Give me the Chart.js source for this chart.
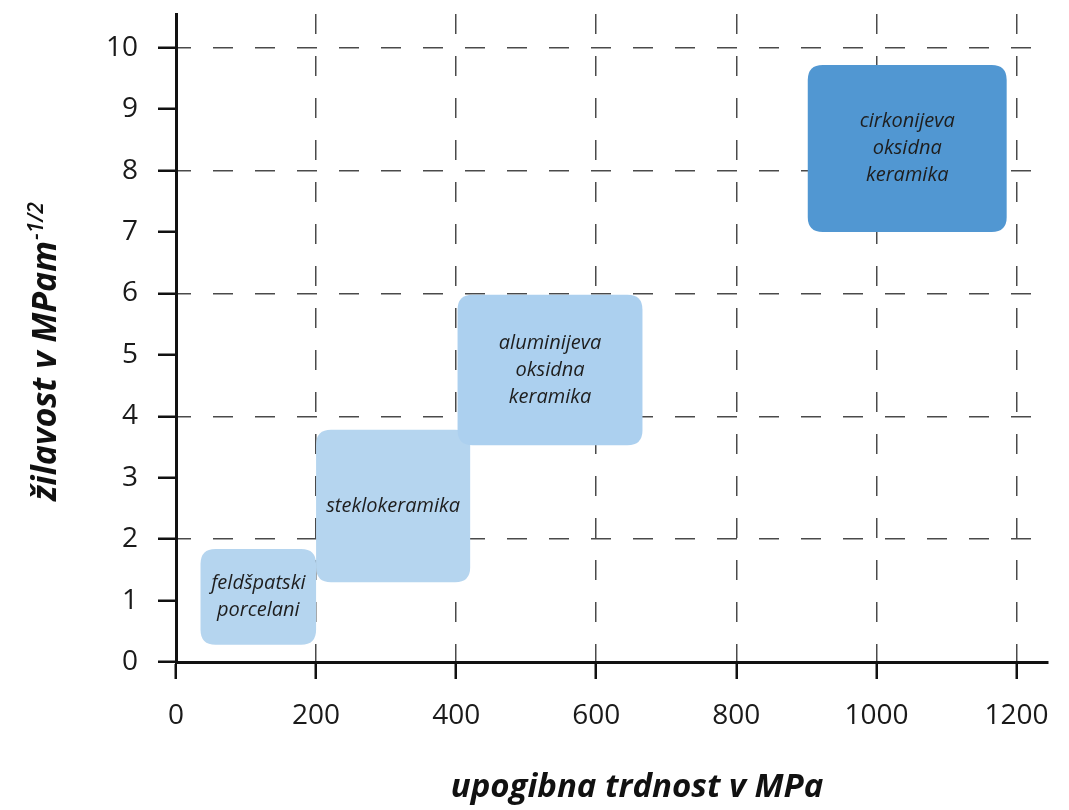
<!DOCTYPE html>
<html>
<head>
<meta charset="utf-8">
<script src="https://cdn.jsdelivr.net/npm/chart.js@4"></script>
<style>body{margin:0;background:#fff}</style>
</head>
<body>
<canvas id="chart" width="1069" height="810"></canvas>
<script>
// material groups, label lines inside each box
const materials = [['feldšpatski', 'porcelani'], ['steklokeramika'], ['aluminijeva', 'oksidna', 'keramika'], ['cirkonijeva', 'oksidna', 'keramika']];
// flexural strength range (MPa)
const strengthFrom = [35, 200, 402, 902];
const strengthTo = [200, 420, 666, 1186];
// fracture toughness range (MPa m^-1/2)
const toughnessFrom = [0.28, 1.30, 3.53, 7.0];
const toughnessTo = [1.84, 3.78, 5.98, 9.72];
const boxColors = ['#b5d5ef', '#b5d5ef', '#acd0ef', '#5197d2'];

const xTicks = [0, 200, 400, 600, 800, 1000, 1200];
const yTicks = [0, 1, 2, 3, 4, 5, 6, 7, 8, 9, 10];
const yGridTicks = [2, 4, 6, 8, 10];

const FONT = '"Open Sans", "DejaVu Sans", sans-serif';

function roundBox(ctx, x, y, w, h, r) {
    ctx.beginPath();
    ctx.moveTo(x + r, y);
    ctx.lineTo(x + w - r, y);
    ctx.quadraticCurveTo(x + w, y, x + w, y + r);
    ctx.lineTo(x + w, y + h - r);
    ctx.quadraticCurveTo(x + w, y + h, x + w - r, y + h);
    ctx.lineTo(x + r, y + h);
    ctx.quadraticCurveTo(x, y + h, x, y + h - r);
    ctx.lineTo(x, y + r);
    ctx.quadraticCurveTo(x, y, x + r, y);
    ctx.closePath();
}

// draws each dataset as a rounded box spanning its two points
const boxPlugin = {
    id: 'boxes',
    beforeDatasetsDraw(chart) {
        const ctx = chart.ctx;
        chart.data.datasets.forEach((ds, i) => {
            const pts = chart.getDatasetMeta(i).data;
            const x0 = Math.min(pts[0].x, pts[1].x), x1 = Math.max(pts[0].x, pts[1].x);
            const y0 = Math.min(pts[0].y, pts[1].y), y1 = Math.max(pts[0].y, pts[1].y);
            ctx.save();
            ctx.fillStyle = ds.backgroundColor;
            roundBox(ctx, x0, y0, x1 - x0, y1 - y0, 15);
            ctx.fill();
            ctx.fillStyle = '#1e1e1e';
            ctx.font = 'italic 20px ' + FONT;
            ctx.textAlign = 'center';
            ctx.textBaseline = 'middle';
            const lines = ds.label;
            const lh = 27;
            const cy = (y0 + y1) / 2 - (lines.length - 1) * lh / 2;
            lines.forEach((t, k) => ctx.fillText(t, (x0 + x1) / 2, cy + k * lh));
            ctx.restore();
        });
    }
};

// axis titles (y one has a superscript)
const titlePlugin = {
    id: 'axisTitles',
    afterDraw(chart) {
        const ctx = chart.ctx;
        ctx.save();
        ctx.fillStyle = '#111';
        ctx.textBaseline = 'alphabetic';
        ctx.font = 'italic bold 33px ' + FONT;
        ctx.textAlign = 'center';
        ctx.fillText('upogibna trdnost v MPa', 637, 797);
        ctx.textAlign = 'left';

        const main = 'žilavost v MPam';
        const sup = '-1/2';
        ctx.translate(56, 352);
        ctx.rotate(-Math.PI / 2);
        ctx.font = 'italic bold 34px ' + FONT;
        const w1 = ctx.measureText(main).width;
        ctx.font = 'italic 600 21px ' + FONT;
        const w2 = ctx.measureText(sup).width;
        const start = -(w1 + w2) / 2;
        ctx.font = 'italic bold 34px ' + FONT;
        ctx.fillText(main, start, 0);
        ctx.font = 'italic 600 21px ' + FONT;
        ctx.fillText(sup, start + w1 + 1, -13);
        ctx.restore();
    }
};

new Chart(document.querySelector('#chart').getContext('2d'), {
    type: 'scatter',
    data: {
        datasets: materials.map((m, i) => ({
            label: m,
            data: [
                {x: strengthFrom[i], y: toughnessFrom[i]},
                {x: strengthTo[i], y: toughnessTo[i]}
            ],
            backgroundColor: boxColors[i],
            pointRadius: 0,
            pointHoverRadius: 0,
            showLine: false
        }))
    },
    options: {
        responsive: false,
        animation: false,
        layout: {padding: {top: 14, right: 21, bottom: 0, left: 0}},
        plugins: {
            legend: {display: false},
            tooltip: {enabled: false}
        },
        scales: {
            x: {
                type: 'linear',
                min: 0,
                max: 1245,
                afterBuildTicks: axis => { axis.ticks = xTicks.map(v => ({value: v})); },
                afterFit: scale => { scale.height = 148; scale.paddingLeft = 0; scale.paddingRight = 0; },
                grid: {
                    color: ctx => ctx.tick && ctx.tick.value > 0 ? '#4a4a4a' : 'rgba(0,0,0,0)',
                    lineWidth: 1.5,
                    tickColor: '#111',
                    tickWidth: 2.5,
                    tickLength: 17,
                    drawTicks: true
                },
                border: {display: true, color: '#111', width: 3, dash: [20, 22], dashOffset: 0},
                ticks: {
                    color: '#1a1a1a',
                    padding: 20,
                    maxRotation: 0,
                    callback: v => String(v),
                    font: {family: FONT, size: 28}
                }
            },
            y: {
                type: 'linear',
                min: 0,
                max: 10.55,
                afterBuildTicks: axis => { axis.ticks = yTicks.map(v => ({value: v})); },
                afterFit: scale => { scale.width = 176; scale.paddingTop = 0; scale.paddingBottom = 0; },
                grid: {
                    color: ctx => ctx.tick && yGridTicks.includes(ctx.tick.value) ? '#4a4a4a' : 'rgba(0,0,0,0)',
                    lineWidth: 1.5,
                    tickColor: '#111',
                    tickWidth: 2.5,
                    tickLength: 18,
                    drawTicks: true
                },
                border: {display: true, color: '#111', width: 3, dash: [20, 22], dashOffset: 7},
                ticks: {
                    color: '#1a1a1a',
                    padding: 20,
                    callback: v => String(v),
                    font: {family: FONT, size: 28}
                }
            }
        }
    },
    plugins: [boxPlugin, titlePlugin]
});
</script>
</body>
</html>
